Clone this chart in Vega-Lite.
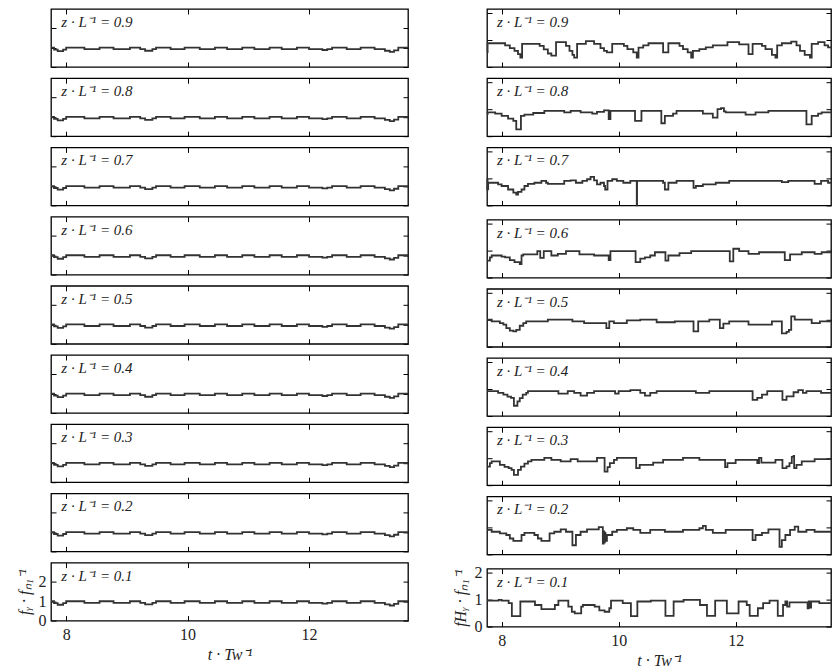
{
"$schema": "https://vega.github.io/schema/vega-lite/v6.json",
"background": "white",
"padding": {"left": 15, "top": 7, "right": 0, "bottom": 0},
"datasets": {
"L": [
{"z":0.9,"t":7.75,"y":1.0},{"z":0.9,"t":7.80,"y":0.9},{"z":0.9,"t":7.86,"y":0.82},{"z":0.9,"t":7.95,"y":0.9},{"z":0.9,"t":8.00,"y":1.0},{"z":0.9,"t":8.30,"y":0.92},{"z":0.9,"t":8.55,"y":1.0},{"z":0.9,"t":8.78,"y":0.92},{"z":0.9,"t":9.05,"y":1.0},{"z":0.9,"t":9.22,"y":0.92},{"z":0.9,"t":9.30,"y":0.84},{"z":0.9,"t":9.42,"y":0.92},{"z":0.9,"t":9.48,"y":1.0},{"z":0.9,"t":9.72,"y":0.92},{"z":0.9,"t":9.95,"y":1.0},{"z":0.9,"t":10.20,"y":0.92},{"z":0.9,"t":10.45,"y":1.0},{"z":0.9,"t":10.65,"y":0.92},{"z":0.9,"t":10.90,"y":1.0},{"z":0.9,"t":11.10,"y":0.92},{"z":0.9,"t":11.35,"y":1.0},{"z":0.9,"t":11.55,"y":0.92},{"z":0.9,"t":11.80,"y":1.0},{"z":0.9,"t":12.00,"y":0.92},{"z":0.9,"t":12.22,"y":0.88},{"z":0.9,"t":12.30,"y":0.92},{"z":0.9,"t":12.38,"y":1.0},{"z":0.9,"t":12.62,"y":0.92},{"z":0.9,"t":12.85,"y":1.0},{"z":0.9,"t":13.08,"y":0.92},{"z":0.9,"t":13.25,"y":0.84},{"z":0.9,"t":13.33,"y":0.78},{"z":0.9,"t":13.40,"y":0.86},{"z":0.9,"t":13.47,"y":1.0},{"z":0.9,"t":13.63,"y":1.0},
{"z":0.8,"t":7.75,"y":1.0},{"z":0.8,"t":7.80,"y":0.9},{"z":0.8,"t":7.86,"y":0.82},{"z":0.8,"t":7.95,"y":0.9},{"z":0.8,"t":8.00,"y":1.0},{"z":0.8,"t":8.30,"y":0.92},{"z":0.8,"t":8.55,"y":1.0},{"z":0.8,"t":8.78,"y":0.92},{"z":0.8,"t":9.05,"y":1.0},{"z":0.8,"t":9.22,"y":0.92},{"z":0.8,"t":9.30,"y":0.84},{"z":0.8,"t":9.42,"y":0.92},{"z":0.8,"t":9.48,"y":1.0},{"z":0.8,"t":9.72,"y":0.92},{"z":0.8,"t":9.95,"y":1.0},{"z":0.8,"t":10.20,"y":0.92},{"z":0.8,"t":10.45,"y":1.0},{"z":0.8,"t":10.65,"y":0.92},{"z":0.8,"t":10.90,"y":1.0},{"z":0.8,"t":11.10,"y":0.92},{"z":0.8,"t":11.35,"y":1.0},{"z":0.8,"t":11.55,"y":0.92},{"z":0.8,"t":11.80,"y":1.0},{"z":0.8,"t":12.00,"y":0.92},{"z":0.8,"t":12.22,"y":0.88},{"z":0.8,"t":12.30,"y":0.92},{"z":0.8,"t":12.38,"y":1.0},{"z":0.8,"t":12.62,"y":0.92},{"z":0.8,"t":12.85,"y":1.0},{"z":0.8,"t":13.08,"y":0.92},{"z":0.8,"t":13.25,"y":0.84},{"z":0.8,"t":13.33,"y":0.78},{"z":0.8,"t":13.40,"y":0.86},{"z":0.8,"t":13.47,"y":1.0},{"z":0.8,"t":13.63,"y":1.0},
{"z":0.7,"t":7.75,"y":1.0},{"z":0.7,"t":7.80,"y":0.9},{"z":0.7,"t":7.86,"y":0.82},{"z":0.7,"t":7.95,"y":0.9},{"z":0.7,"t":8.00,"y":1.0},{"z":0.7,"t":8.30,"y":0.92},{"z":0.7,"t":8.55,"y":1.0},{"z":0.7,"t":8.78,"y":0.92},{"z":0.7,"t":9.05,"y":1.0},{"z":0.7,"t":9.22,"y":0.92},{"z":0.7,"t":9.30,"y":0.84},{"z":0.7,"t":9.42,"y":0.92},{"z":0.7,"t":9.48,"y":1.0},{"z":0.7,"t":9.72,"y":0.92},{"z":0.7,"t":9.95,"y":1.0},{"z":0.7,"t":10.20,"y":0.92},{"z":0.7,"t":10.45,"y":1.0},{"z":0.7,"t":10.65,"y":0.92},{"z":0.7,"t":10.90,"y":1.0},{"z":0.7,"t":11.10,"y":0.92},{"z":0.7,"t":11.35,"y":1.0},{"z":0.7,"t":11.55,"y":0.92},{"z":0.7,"t":11.80,"y":1.0},{"z":0.7,"t":12.00,"y":0.92},{"z":0.7,"t":12.22,"y":0.88},{"z":0.7,"t":12.30,"y":0.92},{"z":0.7,"t":12.38,"y":1.0},{"z":0.7,"t":12.62,"y":0.92},{"z":0.7,"t":12.85,"y":1.0},{"z":0.7,"t":13.08,"y":0.92},{"z":0.7,"t":13.25,"y":0.84},{"z":0.7,"t":13.33,"y":0.78},{"z":0.7,"t":13.40,"y":0.86},{"z":0.7,"t":13.47,"y":1.0},{"z":0.7,"t":13.63,"y":1.0},
{"z":0.6,"t":7.75,"y":1.0},{"z":0.6,"t":7.80,"y":0.9},{"z":0.6,"t":7.86,"y":0.82},{"z":0.6,"t":7.95,"y":0.9},{"z":0.6,"t":8.00,"y":1.0},{"z":0.6,"t":8.30,"y":0.92},{"z":0.6,"t":8.55,"y":1.0},{"z":0.6,"t":8.78,"y":0.92},{"z":0.6,"t":9.05,"y":1.0},{"z":0.6,"t":9.22,"y":0.92},{"z":0.6,"t":9.30,"y":0.84},{"z":0.6,"t":9.42,"y":0.92},{"z":0.6,"t":9.48,"y":1.0},{"z":0.6,"t":9.72,"y":0.92},{"z":0.6,"t":9.95,"y":1.0},{"z":0.6,"t":10.20,"y":0.92},{"z":0.6,"t":10.45,"y":1.0},{"z":0.6,"t":10.65,"y":0.92},{"z":0.6,"t":10.90,"y":1.0},{"z":0.6,"t":11.10,"y":0.92},{"z":0.6,"t":11.35,"y":1.0},{"z":0.6,"t":11.55,"y":0.92},{"z":0.6,"t":11.80,"y":1.0},{"z":0.6,"t":12.00,"y":0.92},{"z":0.6,"t":12.22,"y":0.88},{"z":0.6,"t":12.30,"y":0.92},{"z":0.6,"t":12.38,"y":1.0},{"z":0.6,"t":12.62,"y":0.92},{"z":0.6,"t":12.85,"y":1.0},{"z":0.6,"t":13.08,"y":0.92},{"z":0.6,"t":13.25,"y":0.84},{"z":0.6,"t":13.33,"y":0.78},{"z":0.6,"t":13.40,"y":0.86},{"z":0.6,"t":13.47,"y":1.0},{"z":0.6,"t":13.63,"y":1.0},
{"z":0.5,"t":7.75,"y":1.0},{"z":0.5,"t":7.80,"y":0.9},{"z":0.5,"t":7.86,"y":0.82},{"z":0.5,"t":7.95,"y":0.9},{"z":0.5,"t":8.00,"y":1.0},{"z":0.5,"t":8.30,"y":0.92},{"z":0.5,"t":8.55,"y":1.0},{"z":0.5,"t":8.78,"y":0.92},{"z":0.5,"t":9.05,"y":1.0},{"z":0.5,"t":9.22,"y":0.92},{"z":0.5,"t":9.30,"y":0.84},{"z":0.5,"t":9.42,"y":0.92},{"z":0.5,"t":9.48,"y":1.0},{"z":0.5,"t":9.72,"y":0.92},{"z":0.5,"t":9.95,"y":1.0},{"z":0.5,"t":10.20,"y":0.92},{"z":0.5,"t":10.45,"y":1.0},{"z":0.5,"t":10.65,"y":0.92},{"z":0.5,"t":10.90,"y":1.0},{"z":0.5,"t":11.10,"y":0.92},{"z":0.5,"t":11.35,"y":1.0},{"z":0.5,"t":11.55,"y":0.92},{"z":0.5,"t":11.80,"y":1.0},{"z":0.5,"t":12.00,"y":0.92},{"z":0.5,"t":12.22,"y":0.88},{"z":0.5,"t":12.30,"y":0.92},{"z":0.5,"t":12.38,"y":1.0},{"z":0.5,"t":12.62,"y":0.92},{"z":0.5,"t":12.85,"y":1.0},{"z":0.5,"t":13.08,"y":0.92},{"z":0.5,"t":13.25,"y":0.84},{"z":0.5,"t":13.33,"y":0.78},{"z":0.5,"t":13.40,"y":0.86},{"z":0.5,"t":13.47,"y":1.0},{"z":0.5,"t":13.63,"y":1.0},
{"z":0.4,"t":7.75,"y":1.0},{"z":0.4,"t":7.80,"y":0.9},{"z":0.4,"t":7.86,"y":0.82},{"z":0.4,"t":7.95,"y":0.9},{"z":0.4,"t":8.00,"y":1.0},{"z":0.4,"t":8.30,"y":0.92},{"z":0.4,"t":8.55,"y":1.0},{"z":0.4,"t":8.78,"y":0.92},{"z":0.4,"t":9.05,"y":1.0},{"z":0.4,"t":9.22,"y":0.92},{"z":0.4,"t":9.30,"y":0.84},{"z":0.4,"t":9.42,"y":0.92},{"z":0.4,"t":9.48,"y":1.0},{"z":0.4,"t":9.72,"y":0.92},{"z":0.4,"t":9.95,"y":1.0},{"z":0.4,"t":10.20,"y":0.92},{"z":0.4,"t":10.45,"y":1.0},{"z":0.4,"t":10.65,"y":0.92},{"z":0.4,"t":10.90,"y":1.0},{"z":0.4,"t":11.10,"y":0.92},{"z":0.4,"t":11.35,"y":1.0},{"z":0.4,"t":11.55,"y":0.92},{"z":0.4,"t":11.80,"y":1.0},{"z":0.4,"t":12.00,"y":0.92},{"z":0.4,"t":12.22,"y":0.88},{"z":0.4,"t":12.30,"y":0.92},{"z":0.4,"t":12.38,"y":1.0},{"z":0.4,"t":12.62,"y":0.92},{"z":0.4,"t":12.85,"y":1.0},{"z":0.4,"t":13.08,"y":0.92},{"z":0.4,"t":13.25,"y":0.84},{"z":0.4,"t":13.33,"y":0.78},{"z":0.4,"t":13.40,"y":0.86},{"z":0.4,"t":13.47,"y":1.0},{"z":0.4,"t":13.63,"y":1.0},
{"z":0.3,"t":7.75,"y":1.0},{"z":0.3,"t":7.80,"y":0.9},{"z":0.3,"t":7.86,"y":0.82},{"z":0.3,"t":7.95,"y":0.9},{"z":0.3,"t":8.00,"y":1.0},{"z":0.3,"t":8.30,"y":0.92},{"z":0.3,"t":8.55,"y":1.0},{"z":0.3,"t":8.78,"y":0.92},{"z":0.3,"t":9.05,"y":1.0},{"z":0.3,"t":9.22,"y":0.92},{"z":0.3,"t":9.30,"y":0.84},{"z":0.3,"t":9.42,"y":0.92},{"z":0.3,"t":9.48,"y":1.0},{"z":0.3,"t":9.72,"y":0.92},{"z":0.3,"t":9.95,"y":1.0},{"z":0.3,"t":10.20,"y":0.92},{"z":0.3,"t":10.45,"y":1.0},{"z":0.3,"t":10.65,"y":0.92},{"z":0.3,"t":10.90,"y":1.0},{"z":0.3,"t":11.10,"y":0.92},{"z":0.3,"t":11.35,"y":1.0},{"z":0.3,"t":11.55,"y":0.92},{"z":0.3,"t":11.80,"y":1.0},{"z":0.3,"t":12.00,"y":0.92},{"z":0.3,"t":12.22,"y":0.88},{"z":0.3,"t":12.30,"y":0.92},{"z":0.3,"t":12.38,"y":1.0},{"z":0.3,"t":12.62,"y":0.92},{"z":0.3,"t":12.85,"y":1.0},{"z":0.3,"t":13.08,"y":0.92},{"z":0.3,"t":13.25,"y":0.84},{"z":0.3,"t":13.33,"y":0.78},{"z":0.3,"t":13.40,"y":0.86},{"z":0.3,"t":13.47,"y":1.0},{"z":0.3,"t":13.63,"y":1.0},
{"z":0.2,"t":7.75,"y":1.0},{"z":0.2,"t":7.80,"y":0.9},{"z":0.2,"t":7.86,"y":0.82},{"z":0.2,"t":7.95,"y":0.9},{"z":0.2,"t":8.00,"y":1.0},{"z":0.2,"t":8.30,"y":0.92},{"z":0.2,"t":8.55,"y":1.0},{"z":0.2,"t":8.78,"y":0.92},{"z":0.2,"t":9.05,"y":1.0},{"z":0.2,"t":9.22,"y":0.92},{"z":0.2,"t":9.30,"y":0.84},{"z":0.2,"t":9.42,"y":0.92},{"z":0.2,"t":9.48,"y":1.0},{"z":0.2,"t":9.72,"y":0.92},{"z":0.2,"t":9.95,"y":1.0},{"z":0.2,"t":10.20,"y":0.92},{"z":0.2,"t":10.45,"y":1.0},{"z":0.2,"t":10.65,"y":0.92},{"z":0.2,"t":10.90,"y":1.0},{"z":0.2,"t":11.10,"y":0.92},{"z":0.2,"t":11.35,"y":1.0},{"z":0.2,"t":11.55,"y":0.92},{"z":0.2,"t":11.80,"y":1.0},{"z":0.2,"t":12.00,"y":0.92},{"z":0.2,"t":12.22,"y":0.88},{"z":0.2,"t":12.30,"y":0.92},{"z":0.2,"t":12.38,"y":1.0},{"z":0.2,"t":12.62,"y":0.92},{"z":0.2,"t":12.85,"y":1.0},{"z":0.2,"t":13.08,"y":0.92},{"z":0.2,"t":13.25,"y":0.84},{"z":0.2,"t":13.33,"y":0.78},{"z":0.2,"t":13.40,"y":0.86},{"z":0.2,"t":13.47,"y":1.0},{"z":0.2,"t":13.63,"y":1.0},
{"z":0.1,"t":7.75,"y":1.0},{"z":0.1,"t":7.80,"y":0.9},{"z":0.1,"t":7.86,"y":0.82},{"z":0.1,"t":7.95,"y":0.9},{"z":0.1,"t":8.00,"y":1.0},{"z":0.1,"t":8.30,"y":0.92},{"z":0.1,"t":8.55,"y":1.0},{"z":0.1,"t":8.78,"y":0.92},{"z":0.1,"t":9.05,"y":1.0},{"z":0.1,"t":9.22,"y":0.92},{"z":0.1,"t":9.30,"y":0.84},{"z":0.1,"t":9.42,"y":0.92},{"z":0.1,"t":9.48,"y":1.0},{"z":0.1,"t":9.72,"y":0.92},{"z":0.1,"t":9.95,"y":1.0},{"z":0.1,"t":10.20,"y":0.92},{"z":0.1,"t":10.45,"y":1.0},{"z":0.1,"t":10.65,"y":0.92},{"z":0.1,"t":10.90,"y":1.0},{"z":0.1,"t":11.10,"y":0.92},{"z":0.1,"t":11.35,"y":1.0},{"z":0.1,"t":11.55,"y":0.92},{"z":0.1,"t":11.80,"y":1.0},{"z":0.1,"t":12.00,"y":0.92},{"z":0.1,"t":12.22,"y":0.88},{"z":0.1,"t":12.30,"y":0.92},{"z":0.1,"t":12.38,"y":1.0},{"z":0.1,"t":12.62,"y":0.92},{"z":0.1,"t":12.85,"y":1.0},{"z":0.1,"t":13.08,"y":0.92},{"z":0.1,"t":13.25,"y":0.84},{"z":0.1,"t":13.33,"y":0.78},{"z":0.1,"t":13.40,"y":0.86},{"z":0.1,"t":13.47,"y":1.0},{"z":0.1,"t":13.63,"y":1.0}
],
"R": [
{"z":0.9,"t":7.75,"y":0.55},{"z":0.9,"t":7.76,"y":0.88},{"z":0.9,"t":8.06,"y":0.80},{"z":0.9,"t":8.14,"y":0.70},{"z":0.9,"t":8.22,"y":0.60},{"z":0.9,"t":8.28,"y":0.48},{"z":0.9,"t":8.32,"y":0.35},{"z":0.9,"t":8.35,"y":0.86},{"z":0.9,"t":8.65,"y":0.78},{"z":0.9,"t":8.72,"y":0.65},{"z":0.9,"t":8.79,"y":0.50},{"z":0.9,"t":8.85,"y":0.42},{"z":0.9,"t":8.93,"y":0.92},{"z":0.9,"t":9.10,"y":0.78},{"z":0.9,"t":9.16,"y":0.60},{"z":0.9,"t":9.21,"y":0.45},{"z":0.9,"t":9.24,"y":0.35},{"z":0.9,"t":9.29,"y":0.86},{"z":0.9,"t":9.44,"y":0.96},{"z":0.9,"t":9.58,"y":0.86},{"z":0.9,"t":9.69,"y":0.70},{"z":0.9,"t":9.75,"y":0.60},{"z":0.9,"t":9.80,"y":0.54},{"z":0.9,"t":9.89,"y":0.86},{"z":0.9,"t":10.09,"y":0.78},{"z":0.9,"t":10.15,"y":0.66},{"z":0.9,"t":10.25,"y":0.54},{"z":0.9,"t":10.31,"y":0.35},{"z":0.9,"t":10.34,"y":0.72},{"z":0.9,"t":10.42,"y":0.80},{"z":0.9,"t":10.51,"y":0.88},{"z":0.9,"t":10.76,"y":0.54},{"z":0.9,"t":10.85,"y":0.88},{"z":0.9,"t":11.04,"y":0.78},{"z":0.9,"t":11.10,"y":0.66},{"z":0.9,"t":11.18,"y":0.54},{"z":0.9,"t":11.24,"y":0.35},{"z":0.9,"t":11.27,"y":0.60},{"z":0.9,"t":11.38,"y":0.66},{"z":0.9,"t":11.49,"y":0.73},{"z":0.9,"t":11.61,"y":0.80},{"z":0.9,"t":11.86,"y":0.92},{"z":0.9,"t":12.06,"y":0.84},{"z":0.9,"t":12.22,"y":0.48},{"z":0.9,"t":12.29,"y":0.86},{"z":0.9,"t":12.45,"y":0.78},{"z":0.9,"t":12.51,"y":0.66},{"z":0.9,"t":12.62,"y":0.45},{"z":0.9,"t":12.68,"y":0.35},{"z":0.9,"t":12.71,"y":0.80},{"z":0.9,"t":12.79,"y":0.88},{"z":0.9,"t":12.95,"y":0.94},{"z":0.9,"t":13.04,"y":0.80},{"z":0.9,"t":13.10,"y":0.60},{"z":0.9,"t":13.18,"y":0.45},{"z":0.9,"t":13.27,"y":0.35},{"z":0.9,"t":13.30,"y":0.86},{"z":0.9,"t":13.41,"y":0.92},{"z":0.9,"t":13.52,"y":0.80},{"z":0.9,"t":13.58,"y":0.73},{"z":0.9,"t":13.63,"y":0.73},
{"z":0.8,"t":7.75,"y":0.82},{"z":0.8,"t":7.76,"y":0.88},{"z":0.8,"t":7.89,"y":0.84},{"z":0.8,"t":8.00,"y":0.75},{"z":0.8,"t":8.11,"y":0.65},{"z":0.8,"t":8.20,"y":0.57},{"z":0.8,"t":8.25,"y":0.25},{"z":0.8,"t":8.33,"y":0.75},{"z":0.8,"t":8.39,"y":0.80},{"z":0.8,"t":8.54,"y":0.86},{"z":0.8,"t":8.73,"y":0.94},{"z":0.8,"t":9.07,"y":0.88},{"z":0.8,"t":9.18,"y":0.94},{"z":0.8,"t":9.35,"y":0.88},{"z":0.8,"t":9.55,"y":0.84},{"z":0.8,"t":9.63,"y":0.90},{"z":0.8,"t":9.75,"y":0.96},{"z":0.8,"t":9.83,"y":0.63},{"z":0.8,"t":9.86,"y":0.94},{"z":0.8,"t":10.28,"y":0.57},{"z":0.8,"t":10.39,"y":0.94},{"z":0.8,"t":10.73,"y":0.48},{"z":0.8,"t":10.79,"y":0.75},{"z":0.8,"t":10.93,"y":0.84},{"z":0.8,"t":10.99,"y":0.94},{"z":0.8,"t":11.44,"y":0.84},{"z":0.8,"t":11.61,"y":0.69},{"z":0.8,"t":11.69,"y":1.0},{"z":0.8,"t":11.75,"y":1.04},{"z":0.8,"t":11.80,"y":0.92},{"z":0.8,"t":11.83,"y":0.88},{"z":0.8,"t":12.17,"y":0.80},{"z":0.8,"t":12.34,"y":0.88},{"z":0.8,"t":12.56,"y":0.94},{"z":0.8,"t":13.21,"y":0.44},{"z":0.8,"t":13.30,"y":0.75},{"z":0.8,"t":13.41,"y":0.84},{"z":0.8,"t":13.47,"y":0.88},{"z":0.8,"t":13.63,"y":0.88},
{"z":0.7,"t":7.75,"y":0.55},{"z":0.7,"t":7.755,"y":0.95},{"z":0.7,"t":7.76,"y":0.60},{"z":0.7,"t":7.77,"y":0.84},{"z":0.7,"t":7.94,"y":0.78},{"z":0.7,"t":8.00,"y":0.72},{"z":0.7,"t":8.11,"y":0.59},{"z":0.7,"t":8.20,"y":0.47},{"z":0.7,"t":8.25,"y":0.40},{"z":0.7,"t":8.28,"y":0.50},{"z":0.7,"t":8.34,"y":0.59},{"z":0.7,"t":8.39,"y":0.72},{"z":0.7,"t":8.45,"y":0.80},{"z":0.7,"t":8.56,"y":0.84},{"z":0.7,"t":8.68,"y":0.91},{"z":0.7,"t":8.76,"y":0.84},{"z":0.7,"t":8.79,"y":0.80},{"z":0.7,"t":9.07,"y":0.91},{"z":0.7,"t":9.18,"y":0.93},{"z":0.7,"t":9.27,"y":0.84},{"z":0.7,"t":9.38,"y":0.91},{"z":0.7,"t":9.46,"y":0.97},{"z":0.7,"t":9.52,"y":1.06},{"z":0.7,"t":9.58,"y":0.93},{"z":0.7,"t":9.63,"y":0.78},{"z":0.7,"t":9.69,"y":0.84},{"z":0.7,"t":9.75,"y":0.72},{"z":0.7,"t":9.77,"y":0.59},{"z":0.7,"t":9.81,"y":0.91},{"z":0.7,"t":9.89,"y":0.97},{"z":0.7,"t":9.97,"y":0.91},{"z":0.7,"t":10.08,"y":0.84},{"z":0.7,"t":10.20,"y":0.91},{"z":0.7,"t":10.31,"y":0.0},{"z":0.7,"t":10.315,"y":0.91},{"z":0.7,"t":10.76,"y":0.84},{"z":0.7,"t":10.79,"y":0.59},{"z":0.7,"t":10.85,"y":0.84},{"z":0.7,"t":10.99,"y":0.91},{"z":0.7,"t":11.28,"y":0.65},{"z":0.7,"t":11.32,"y":0.72},{"z":0.7,"t":11.44,"y":0.78},{"z":0.7,"t":11.66,"y":0.84},{"z":0.7,"t":11.89,"y":0.91},{"z":0.7,"t":12.79,"y":0.86},{"z":0.7,"t":12.90,"y":0.91},{"z":0.7,"t":13.35,"y":0.80},{"z":0.7,"t":13.46,"y":0.91},{"z":0.7,"t":13.58,"y":0.84},{"z":0.7,"t":13.63,"y":0.84},
{"z":0.6,"t":7.75,"y":0.63},{"z":0.6,"t":7.80,"y":0.75},{"z":0.6,"t":7.83,"y":0.82},{"z":0.6,"t":8.00,"y":0.78},{"z":0.6,"t":8.06,"y":0.75},{"z":0.6,"t":8.14,"y":0.65},{"z":0.6,"t":8.22,"y":0.57},{"z":0.6,"t":8.31,"y":0.50},{"z":0.6,"t":8.34,"y":0.82},{"z":0.6,"t":8.37,"y":0.86},{"z":0.6,"t":8.61,"y":0.98},{"z":0.6,"t":8.66,"y":0.73},{"z":0.6,"t":8.72,"y":0.98},{"z":0.6,"t":8.85,"y":0.82},{"z":0.6,"t":8.96,"y":0.88},{"z":0.6,"t":9.10,"y":0.98},{"z":0.6,"t":9.33,"y":0.86},{"z":0.6,"t":9.58,"y":0.82},{"z":0.6,"t":9.83,"y":0.65},{"z":0.6,"t":9.86,"y":0.98},{"z":0.6,"t":10.29,"y":0.57},{"z":0.6,"t":10.37,"y":0.70},{"z":0.6,"t":10.45,"y":0.75},{"z":0.6,"t":10.54,"y":0.82},{"z":0.6,"t":10.62,"y":0.94},{"z":0.6,"t":10.80,"y":0.63},{"z":0.6,"t":10.85,"y":0.82},{"z":0.6,"t":11.04,"y":0.91},{"z":0.6,"t":11.24,"y":0.98},{"z":0.6,"t":11.90,"y":0.60},{"z":0.6,"t":11.96,"y":1.07},{"z":0.6,"t":12.06,"y":0.98},{"z":0.6,"t":12.22,"y":0.88},{"z":0.6,"t":12.40,"y":0.94},{"z":0.6,"t":12.84,"y":0.65},{"z":0.6,"t":12.93,"y":0.86},{"z":0.6,"t":13.13,"y":0.94},{"z":0.6,"t":13.35,"y":0.88},{"z":0.6,"t":13.47,"y":0.94},{"z":0.6,"t":13.63,"y":0.94},
{"z":0.5,"t":7.75,"y":1.01},{"z":0.5,"t":7.83,"y":0.94},{"z":0.5,"t":7.97,"y":0.88},{"z":0.5,"t":8.03,"y":0.82},{"z":0.5,"t":8.08,"y":0.69},{"z":0.5,"t":8.14,"y":0.60},{"z":0.5,"t":8.20,"y":0.57},{"z":0.5,"t":8.25,"y":0.63},{"z":0.5,"t":8.31,"y":0.78},{"z":0.5,"t":8.37,"y":0.88},{"z":0.5,"t":8.42,"y":0.94},{"z":0.5,"t":8.79,"y":1.01},{"z":0.5,"t":9.21,"y":0.94},{"z":0.5,"t":9.41,"y":0.88},{"z":0.5,"t":9.79,"y":0.69},{"z":0.5,"t":9.84,"y":0.94},{"z":0.5,"t":9.92,"y":0.88},{"z":0.5,"t":10.14,"y":0.98},{"z":0.5,"t":10.37,"y":1.01},{"z":0.5,"t":10.65,"y":0.91},{"z":0.5,"t":10.96,"y":0.94},{"z":0.5,"t":11.28,"y":0.57},{"z":0.5,"t":11.36,"y":0.94},{"z":0.5,"t":11.55,"y":1.01},{"z":0.5,"t":11.73,"y":0.69},{"z":0.5,"t":11.79,"y":0.86},{"z":0.5,"t":11.89,"y":0.94},{"z":0.5,"t":12.22,"y":0.82},{"z":0.5,"t":12.62,"y":0.94},{"z":0.5,"t":12.79,"y":0.50},{"z":0.5,"t":12.87,"y":0.55},{"z":0.5,"t":12.91,"y":0.63},{"z":0.5,"t":12.95,"y":1.13},{"z":0.5,"t":13.01,"y":1.01},{"z":0.5,"t":13.30,"y":0.88},{"z":0.5,"t":13.44,"y":0.94},{"z":0.5,"t":13.63,"y":0.94},
{"z":0.4,"t":7.75,"y":0.92},{"z":0.4,"t":7.94,"y":0.855},{"z":0.4,"t":8.03,"y":0.79},{"z":0.4,"t":8.10,"y":0.72},{"z":0.4,"t":8.16,"y":0.67},{"z":0.4,"t":8.21,"y":0.38},{"z":0.4,"t":8.27,"y":0.54},{"z":0.4,"t":8.31,"y":0.66},{"z":0.4,"t":8.36,"y":0.79},{"z":0.4,"t":8.42,"y":0.855},{"z":0.4,"t":8.45,"y":0.92},{"z":0.4,"t":8.97,"y":0.83},{"z":0.4,"t":9.13,"y":0.92},{"z":0.4,"t":9.24,"y":0.855},{"z":0.4,"t":9.35,"y":0.755},{"z":0.4,"t":9.46,"y":0.855},{"z":0.4,"t":9.58,"y":0.92},{"z":0.4,"t":9.94,"y":0.83},{"z":0.4,"t":10.0,"y":0.92},{"z":0.4,"t":10.20,"y":0.96},{"z":0.4,"t":10.37,"y":0.855},{"z":0.4,"t":10.45,"y":0.755},{"z":0.4,"t":10.54,"y":0.855},{"z":0.4,"t":10.65,"y":0.92},{"z":0.4,"t":11.32,"y":0.855},{"z":0.4,"t":11.55,"y":0.92},{"z":0.4,"t":12.29,"y":0.60},{"z":0.4,"t":12.37,"y":0.67},{"z":0.4,"t":12.45,"y":0.79},{"z":0.4,"t":12.54,"y":0.92},{"z":0.4,"t":12.80,"y":0.60},{"z":0.4,"t":12.87,"y":0.73},{"z":0.4,"t":12.99,"y":0.88},{"z":0.4,"t":13.07,"y":0.96},{"z":0.4,"t":13.15,"y":0.855},{"z":0.4,"t":13.21,"y":0.92},{"z":0.4,"t":13.46,"y":0.855},{"z":0.4,"t":13.63,"y":0.855},
{"z":0.3,"t":7.75,"y":0.69},{"z":0.3,"t":7.80,"y":0.82},{"z":0.3,"t":7.83,"y":0.88},{"z":0.3,"t":7.97,"y":0.755},{"z":0.3,"t":8.05,"y":0.68},{"z":0.3,"t":8.12,"y":0.63},{"z":0.3,"t":8.17,"y":0.57},{"z":0.3,"t":8.21,"y":0.38},{"z":0.3,"t":8.28,"y":0.57},{"z":0.3,"t":8.33,"y":0.69},{"z":0.3,"t":8.39,"y":0.80},{"z":0.3,"t":8.45,"y":0.88},{"z":0.3,"t":8.51,"y":0.94},{"z":0.3,"t":8.73,"y":1.01},{"z":0.3,"t":8.85,"y":0.94},{"z":0.3,"t":9.01,"y":0.88},{"z":0.3,"t":9.18,"y":0.97},{"z":0.3,"t":9.30,"y":0.88},{"z":0.3,"t":9.63,"y":1.01},{"z":0.3,"t":9.76,"y":0.50},{"z":0.3,"t":9.81,"y":0.67},{"z":0.3,"t":9.85,"y":0.82},{"z":0.3,"t":9.92,"y":0.94},{"z":0.3,"t":9.97,"y":1.01},{"z":0.3,"t":10.30,"y":0.63},{"z":0.3,"t":10.36,"y":0.755},{"z":0.3,"t":10.59,"y":0.84},{"z":0.3,"t":10.76,"y":0.94},{"z":0.3,"t":11.10,"y":1.01},{"z":0.3,"t":11.38,"y":0.94},{"z":0.3,"t":11.82,"y":0.67},{"z":0.3,"t":11.86,"y":0.82},{"z":0.3,"t":12.0,"y":0.94},{"z":0.3,"t":12.37,"y":0.82},{"z":0.3,"t":12.40,"y":1.01},{"z":0.3,"t":12.44,"y":0.84},{"z":0.3,"t":12.68,"y":0.94},{"z":0.3,"t":12.80,"y":0.63},{"z":0.3,"t":12.87,"y":0.70},{"z":0.3,"t":12.92,"y":0.82},{"z":0.3,"t":12.96,"y":1.05},{"z":0.3,"t":12.99,"y":1.09},{"z":0.3,"t":13.0,"y":0.63},{"z":0.3,"t":13.04,"y":0.755},{"z":0.3,"t":13.13,"y":0.88},{"z":0.3,"t":13.35,"y":0.97},{"z":0.3,"t":13.63,"y":0.97},
{"z":0.2,"t":7.75,"y":0.91},{"z":0.2,"t":7.83,"y":0.84},{"z":0.2,"t":7.97,"y":0.78},{"z":0.2,"t":8.08,"y":0.72},{"z":0.2,"t":8.14,"y":0.59},{"z":0.2,"t":8.20,"y":0.50},{"z":0.2,"t":8.34,"y":0.72},{"z":0.2,"t":8.39,"y":0.80},{"z":0.2,"t":8.56,"y":0.72},{"z":0.2,"t":8.62,"y":0.59},{"z":0.2,"t":8.68,"y":0.50},{"z":0.2,"t":8.82,"y":0.78},{"z":0.2,"t":8.90,"y":0.84},{"z":0.2,"t":9.01,"y":0.93},{"z":0.2,"t":9.10,"y":0.84},{"z":0.2,"t":9.21,"y":0.34},{"z":0.2,"t":9.27,"y":0.72},{"z":0.2,"t":9.35,"y":0.84},{"z":0.2,"t":9.46,"y":0.93},{"z":0.2,"t":9.66,"y":1.01},{"z":0.2,"t":9.73,"y":0.40},{"z":0.2,"t":9.745,"y":0.85},{"z":0.2,"t":9.755,"y":0.45},{"z":0.2,"t":9.765,"y":0.80},{"z":0.2,"t":9.775,"y":0.50},{"z":0.2,"t":9.80,"y":0.72},{"z":0.2,"t":9.89,"y":0.84},{"z":0.2,"t":9.97,"y":0.91},{"z":0.2,"t":10.14,"y":0.97},{"z":0.2,"t":10.25,"y":0.91},{"z":0.2,"t":10.37,"y":0.80},{"z":0.2,"t":10.54,"y":0.91},{"z":0.2,"t":10.79,"y":0.84},{"z":0.2,"t":11.10,"y":0.91},{"z":0.2,"t":11.38,"y":0.97},{"z":0.2,"t":11.44,"y":1.06},{"z":0.2,"t":11.49,"y":0.91},{"z":0.2,"t":11.61,"y":0.80},{"z":0.2,"t":11.83,"y":0.91},{"z":0.2,"t":12.29,"y":0.53},{"z":0.2,"t":12.34,"y":0.72},{"z":0.2,"t":12.45,"y":0.80},{"z":0.2,"t":12.56,"y":0.93},{"z":0.2,"t":12.75,"y":0.28},{"z":0.2,"t":12.79,"y":0.53},{"z":0.2,"t":12.85,"y":0.72},{"z":0.2,"t":12.93,"y":0.91},{"z":0.2,"t":13.01,"y":1.03},{"z":0.2,"t":13.07,"y":0.84},{"z":0.2,"t":13.21,"y":0.91},{"z":0.2,"t":13.35,"y":0.84},{"z":0.2,"t":13.63,"y":0.84},
{"z":0.1,"t":7.75,"y":0.96},{"z":0.1,"t":7.95,"y":0.99},{"z":0.1,"t":8.0,"y":0.96},{"z":0.1,"t":8.12,"y":0.87},{"z":0.1,"t":8.175,"y":0.39},{"z":0.1,"t":8.32,"y":0.93},{"z":0.1,"t":8.57,"y":0.80},{"z":0.1,"t":8.68,"y":0.65},{"z":0.1,"t":8.91,"y":0.80},{"z":0.1,"t":8.97,"y":0.96},{"z":0.1,"t":9.14,"y":0.74},{"z":0.1,"t":9.20,"y":0.55},{"z":0.1,"t":9.25,"y":0.49},{"z":0.1,"t":9.36,"y":0.74},{"z":0.1,"t":9.39,"y":0.80},{"z":0.1,"t":9.59,"y":0.74},{"z":0.1,"t":9.67,"y":0.60},{"z":0.1,"t":9.76,"y":0.55},{"z":0.1,"t":9.84,"y":0.68},{"z":0.1,"t":9.87,"y":0.96},{"z":0.1,"t":10.07,"y":0.87},{"z":0.1,"t":10.21,"y":0.39},{"z":0.1,"t":10.32,"y":0.93},{"z":0.1,"t":10.55,"y":0.96},{"z":0.1,"t":10.80,"y":0.40},{"z":0.1,"t":10.94,"y":0.93},{"z":0.1,"t":11.11,"y":0.99},{"z":0.1,"t":11.39,"y":0.80},{"z":0.1,"t":11.51,"y":0.40},{"z":0.1,"t":11.65,"y":0.96},{"z":0.1,"t":11.85,"y":0.49},{"z":0.1,"t":12.05,"y":0.93},{"z":0.1,"t":12.19,"y":0.80},{"z":0.1,"t":12.24,"y":0.40},{"z":0.1,"t":12.38,"y":0.68},{"z":0.1,"t":12.47,"y":0.87},{"z":0.1,"t":12.58,"y":0.96},{"z":0.1,"t":12.72,"y":0.40},{"z":0.1,"t":12.81,"y":0.80},{"z":0.1,"t":12.85,"y":0.93},{"z":0.1,"t":12.88,"y":0.74},{"z":0.1,"t":12.92,"y":0.90},{"z":0.1,"t":13.23,"y":0.68},{"z":0.1,"t":13.25,"y":0.93},{"z":0.1,"t":13.27,"y":0.70},{"z":0.1,"t":13.29,"y":0.93},{"z":0.1,"t":13.43,"y":0.87},{"z":0.1,"t":13.63,"y":0.87}
]
},
"spacing": 38,
"hconcat": [
{"spacing": 7.2, "vconcat": [
{"width":357,"height":58,"resolve":{"axis":{"x":"independent","y":"independent"}},"layer":[
{"data":{"name":"L"},"transform":[{"filter":"datum.z == 0.9"}],"mark":{"type":"line","interpolate":"step-after","color":"#333","strokeWidth":1.8},
"encoding":{"x":{"field":"t","type":"quantitative","scale":{"domain":[7.75,13.63],"nice":false,"zero":false},"axis":{"values":[8,10,12],"labels":false,"title":null}},
"y":{"field":"y","type":"quantitative","scale":{"domain":[0,3],"nice":false},"axis":{"values":[0,1,2],"labels":false,"title":null}}}},
{"data":{"values":[{"label":"z · L⁻¹ = 0.9"}]},"mark":{"type":"text","align":"left","baseline":"alphabetic","font":"Liberation Serif","fontStyle":"italic","fontSize":15,"color":"#222"},
"encoding":{"text":{"field":"label"},"x":{"datum":7.92,"type":"quantitative","axis":{"orient":"top","values":[8,10,12],"labels":false,"title":null}},
"y":{"datum":2.07,"type":"quantitative","axis":{"orient":"right","values":[0,1,2],"labels":false,"title":null}}}}]},
{"width":357,"height":58,"resolve":{"axis":{"x":"independent","y":"independent"}},"layer":[
{"data":{"name":"L"},"transform":[{"filter":"datum.z == 0.8"}],"mark":{"type":"line","interpolate":"step-after","color":"#333","strokeWidth":1.8},
"encoding":{"x":{"field":"t","type":"quantitative","scale":{"domain":[7.75,13.63],"nice":false,"zero":false},"axis":{"values":[8,10,12],"labels":false,"title":null}},
"y":{"field":"y","type":"quantitative","scale":{"domain":[0,3],"nice":false},"axis":{"values":[0,1,2],"labels":false,"title":null}}}},
{"data":{"values":[{"label":"z · L⁻¹ = 0.8"}]},"mark":{"type":"text","align":"left","baseline":"alphabetic","font":"Liberation Serif","fontStyle":"italic","fontSize":15,"color":"#222"},
"encoding":{"text":{"field":"label"},"x":{"datum":7.92,"type":"quantitative","axis":{"orient":"top","values":[8,10,12],"labels":false,"title":null}},
"y":{"datum":2.07,"type":"quantitative","axis":{"orient":"right","values":[0,1,2],"labels":false,"title":null}}}}]},
{"width":357,"height":58,"resolve":{"axis":{"x":"independent","y":"independent"}},"layer":[
{"data":{"name":"L"},"transform":[{"filter":"datum.z == 0.7"}],"mark":{"type":"line","interpolate":"step-after","color":"#333","strokeWidth":1.8},
"encoding":{"x":{"field":"t","type":"quantitative","scale":{"domain":[7.75,13.63],"nice":false,"zero":false},"axis":{"values":[8,10,12],"labels":false,"title":null}},
"y":{"field":"y","type":"quantitative","scale":{"domain":[0,3],"nice":false},"axis":{"values":[0,1,2],"labels":false,"title":null}}}},
{"data":{"values":[{"label":"z · L⁻¹ = 0.7"}]},"mark":{"type":"text","align":"left","baseline":"alphabetic","font":"Liberation Serif","fontStyle":"italic","fontSize":15,"color":"#222"},
"encoding":{"text":{"field":"label"},"x":{"datum":7.92,"type":"quantitative","axis":{"orient":"top","values":[8,10,12],"labels":false,"title":null}},
"y":{"datum":2.07,"type":"quantitative","axis":{"orient":"right","values":[0,1,2],"labels":false,"title":null}}}}]},
{"width":357,"height":58,"resolve":{"axis":{"x":"independent","y":"independent"}},"layer":[
{"data":{"name":"L"},"transform":[{"filter":"datum.z == 0.6"}],"mark":{"type":"line","interpolate":"step-after","color":"#333","strokeWidth":1.8},
"encoding":{"x":{"field":"t","type":"quantitative","scale":{"domain":[7.75,13.63],"nice":false,"zero":false},"axis":{"values":[8,10,12],"labels":false,"title":null}},
"y":{"field":"y","type":"quantitative","scale":{"domain":[0,3],"nice":false},"axis":{"values":[0,1,2],"labels":false,"title":null}}}},
{"data":{"values":[{"label":"z · L⁻¹ = 0.6"}]},"mark":{"type":"text","align":"left","baseline":"alphabetic","font":"Liberation Serif","fontStyle":"italic","fontSize":15,"color":"#222"},
"encoding":{"text":{"field":"label"},"x":{"datum":7.92,"type":"quantitative","axis":{"orient":"top","values":[8,10,12],"labels":false,"title":null}},
"y":{"datum":2.07,"type":"quantitative","axis":{"orient":"right","values":[0,1,2],"labels":false,"title":null}}}}]},
{"width":357,"height":58,"resolve":{"axis":{"x":"independent","y":"independent"}},"layer":[
{"data":{"name":"L"},"transform":[{"filter":"datum.z == 0.5"}],"mark":{"type":"line","interpolate":"step-after","color":"#333","strokeWidth":1.8},
"encoding":{"x":{"field":"t","type":"quantitative","scale":{"domain":[7.75,13.63],"nice":false,"zero":false},"axis":{"values":[8,10,12],"labels":false,"title":null}},
"y":{"field":"y","type":"quantitative","scale":{"domain":[0,3],"nice":false},"axis":{"values":[0,1,2],"labels":false,"title":null}}}},
{"data":{"values":[{"label":"z · L⁻¹ = 0.5"}]},"mark":{"type":"text","align":"left","baseline":"alphabetic","font":"Liberation Serif","fontStyle":"italic","fontSize":15,"color":"#222"},
"encoding":{"text":{"field":"label"},"x":{"datum":7.92,"type":"quantitative","axis":{"orient":"top","values":[8,10,12],"labels":false,"title":null}},
"y":{"datum":2.07,"type":"quantitative","axis":{"orient":"right","values":[0,1,2],"labels":false,"title":null}}}}]},
{"width":357,"height":58,"resolve":{"axis":{"x":"independent","y":"independent"}},"layer":[
{"data":{"name":"L"},"transform":[{"filter":"datum.z == 0.4"}],"mark":{"type":"line","interpolate":"step-after","color":"#333","strokeWidth":1.8},
"encoding":{"x":{"field":"t","type":"quantitative","scale":{"domain":[7.75,13.63],"nice":false,"zero":false},"axis":{"values":[8,10,12],"labels":false,"title":null}},
"y":{"field":"y","type":"quantitative","scale":{"domain":[0,3],"nice":false},"axis":{"values":[0,1,2],"labels":false,"title":null}}}},
{"data":{"values":[{"label":"z · L⁻¹ = 0.4"}]},"mark":{"type":"text","align":"left","baseline":"alphabetic","font":"Liberation Serif","fontStyle":"italic","fontSize":15,"color":"#222"},
"encoding":{"text":{"field":"label"},"x":{"datum":7.92,"type":"quantitative","axis":{"orient":"top","values":[8,10,12],"labels":false,"title":null}},
"y":{"datum":2.07,"type":"quantitative","axis":{"orient":"right","values":[0,1,2],"labels":false,"title":null}}}}]},
{"width":357,"height":58,"resolve":{"axis":{"x":"independent","y":"independent"}},"layer":[
{"data":{"name":"L"},"transform":[{"filter":"datum.z == 0.3"}],"mark":{"type":"line","interpolate":"step-after","color":"#333","strokeWidth":1.8},
"encoding":{"x":{"field":"t","type":"quantitative","scale":{"domain":[7.75,13.63],"nice":false,"zero":false},"axis":{"values":[8,10,12],"labels":false,"title":null}},
"y":{"field":"y","type":"quantitative","scale":{"domain":[0,3],"nice":false},"axis":{"values":[0,1,2],"labels":false,"title":null}}}},
{"data":{"values":[{"label":"z · L⁻¹ = 0.3"}]},"mark":{"type":"text","align":"left","baseline":"alphabetic","font":"Liberation Serif","fontStyle":"italic","fontSize":15,"color":"#222"},
"encoding":{"text":{"field":"label"},"x":{"datum":7.92,"type":"quantitative","axis":{"orient":"top","values":[8,10,12],"labels":false,"title":null}},
"y":{"datum":2.07,"type":"quantitative","axis":{"orient":"right","values":[0,1,2],"labels":false,"title":null}}}}]},
{"width":357,"height":58,"resolve":{"axis":{"x":"independent","y":"independent"}},"layer":[
{"data":{"name":"L"},"transform":[{"filter":"datum.z == 0.2"}],"mark":{"type":"line","interpolate":"step-after","color":"#333","strokeWidth":1.8},
"encoding":{"x":{"field":"t","type":"quantitative","scale":{"domain":[7.75,13.63],"nice":false,"zero":false},"axis":{"values":[8,10,12],"labels":false,"title":null}},
"y":{"field":"y","type":"quantitative","scale":{"domain":[0,3],"nice":false},"axis":{"values":[0,1,2],"labels":false,"title":null}}}},
{"data":{"values":[{"label":"z · L⁻¹ = 0.2"}]},"mark":{"type":"text","align":"left","baseline":"alphabetic","font":"Liberation Serif","fontStyle":"italic","fontSize":15,"color":"#222"},
"encoding":{"text":{"field":"label"},"x":{"datum":7.92,"type":"quantitative","axis":{"orient":"top","values":[8,10,12],"labels":false,"title":null}},
"y":{"datum":2.07,"type":"quantitative","axis":{"orient":"right","values":[0,1,2],"labels":false,"title":null}}}}]},
{"width":357,"height":58,"resolve":{"axis":{"x":"independent","y":"independent"}},"layer":[
{"data":{"name":"L"},"transform":[{"filter":"datum.z == 0.1"}],"mark":{"type":"line","interpolate":"step-after","color":"#333","strokeWidth":1.8},
"encoding":{"x":{"field":"t","type":"quantitative","scale":{"domain":[7.75,13.63],"nice":false,"zero":false},"axis":{"values":[8,10,12],"title":"t · Tw⁻¹"}},
"y":{"field":"y","type":"quantitative","scale":{"domain":[0,3],"nice":false},"axis":{"values":[0,1,2],"title":"fᵧ · fₙ₁⁻¹"}}}},
{"data":{"values":[{"label":"z · L⁻¹ = 0.1"}]},"mark":{"type":"text","align":"left","baseline":"alphabetic","font":"Liberation Serif","fontStyle":"italic","fontSize":15,"color":"#222"},
"encoding":{"text":{"field":"label"},"x":{"datum":7.92,"type":"quantitative","axis":{"orient":"top","values":[8,10,12],"labels":false,"title":null}},
"y":{"datum":2.07,"type":"quantitative","axis":{"orient":"right","values":[0,1,2],"labels":false,"title":null}}}}]}
]},
{"spacing": 7.2, "vconcat": [
{"width":344,"height":58,"resolve":{"axis":{"x":"independent","y":"independent"}},"layer":[
{"data":{"name":"R"},"transform":[{"filter":"datum.z == 0.9"}],"mark":{"type":"line","interpolate":"step-after","color":"#333","strokeWidth":1.8},
"encoding":{"x":{"field":"t","type":"quantitative","scale":{"domain":[7.75,13.63],"nice":false,"zero":false},"axis":{"values":[8,10,12],"labels":false,"title":null}},
"y":{"field":"y","type":"quantitative","scale":{"domain":[0,2.15],"nice":false},"axis":{"values":[0,1,2],"labels":false,"title":null}}}},
{"data":{"values":[{"label":"z · L⁻¹ = 0.9"}]},"mark":{"type":"text","align":"left","baseline":"alphabetic","font":"Liberation Serif","fontStyle":"italic","fontSize":15,"color":"#222"},
"encoding":{"text":{"field":"label"},"x":{"datum":7.92,"type":"quantitative","axis":{"orient":"top","values":[8,10,12],"labels":false,"title":null}},
"y":{"datum":1.48,"type":"quantitative","axis":{"orient":"right","values":[0,1,2],"labels":false,"title":null}}}}]},
{"width":344,"height":58,"resolve":{"axis":{"x":"independent","y":"independent"}},"layer":[
{"data":{"name":"R"},"transform":[{"filter":"datum.z == 0.8"}],"mark":{"type":"line","interpolate":"step-after","color":"#333","strokeWidth":1.8},
"encoding":{"x":{"field":"t","type":"quantitative","scale":{"domain":[7.75,13.63],"nice":false,"zero":false},"axis":{"values":[8,10,12],"labels":false,"title":null}},
"y":{"field":"y","type":"quantitative","scale":{"domain":[0,2.15],"nice":false},"axis":{"values":[0,1,2],"labels":false,"title":null}}}},
{"data":{"values":[{"label":"z · L⁻¹ = 0.8"}]},"mark":{"type":"text","align":"left","baseline":"alphabetic","font":"Liberation Serif","fontStyle":"italic","fontSize":15,"color":"#222"},
"encoding":{"text":{"field":"label"},"x":{"datum":7.92,"type":"quantitative","axis":{"orient":"top","values":[8,10,12],"labels":false,"title":null}},
"y":{"datum":1.48,"type":"quantitative","axis":{"orient":"right","values":[0,1,2],"labels":false,"title":null}}}}]},
{"width":344,"height":58,"resolve":{"axis":{"x":"independent","y":"independent"}},"layer":[
{"data":{"name":"R"},"transform":[{"filter":"datum.z == 0.7"}],"mark":{"type":"line","interpolate":"step-after","color":"#333","strokeWidth":1.8},
"encoding":{"x":{"field":"t","type":"quantitative","scale":{"domain":[7.75,13.63],"nice":false,"zero":false},"axis":{"values":[8,10,12],"labels":false,"title":null}},
"y":{"field":"y","type":"quantitative","scale":{"domain":[0,2.15],"nice":false},"axis":{"values":[0,1,2],"labels":false,"title":null}}}},
{"data":{"values":[{"label":"z · L⁻¹ = 0.7"}]},"mark":{"type":"text","align":"left","baseline":"alphabetic","font":"Liberation Serif","fontStyle":"italic","fontSize":15,"color":"#222"},
"encoding":{"text":{"field":"label"},"x":{"datum":7.92,"type":"quantitative","axis":{"orient":"top","values":[8,10,12],"labels":false,"title":null}},
"y":{"datum":1.48,"type":"quantitative","axis":{"orient":"right","values":[0,1,2],"labels":false,"title":null}}}}]},
{"width":344,"height":58,"resolve":{"axis":{"x":"independent","y":"independent"}},"layer":[
{"data":{"name":"R"},"transform":[{"filter":"datum.z == 0.6"}],"mark":{"type":"line","interpolate":"step-after","color":"#333","strokeWidth":1.8},
"encoding":{"x":{"field":"t","type":"quantitative","scale":{"domain":[7.75,13.63],"nice":false,"zero":false},"axis":{"values":[8,10,12],"labels":false,"title":null}},
"y":{"field":"y","type":"quantitative","scale":{"domain":[0,2.15],"nice":false},"axis":{"values":[0,1,2],"labels":false,"title":null}}}},
{"data":{"values":[{"label":"z · L⁻¹ = 0.6"}]},"mark":{"type":"text","align":"left","baseline":"alphabetic","font":"Liberation Serif","fontStyle":"italic","fontSize":15,"color":"#222"},
"encoding":{"text":{"field":"label"},"x":{"datum":7.92,"type":"quantitative","axis":{"orient":"top","values":[8,10,12],"labels":false,"title":null}},
"y":{"datum":1.48,"type":"quantitative","axis":{"orient":"right","values":[0,1,2],"labels":false,"title":null}}}}]},
{"width":344,"height":58,"resolve":{"axis":{"x":"independent","y":"independent"}},"layer":[
{"data":{"name":"R"},"transform":[{"filter":"datum.z == 0.5"}],"mark":{"type":"line","interpolate":"step-after","color":"#333","strokeWidth":1.8},
"encoding":{"x":{"field":"t","type":"quantitative","scale":{"domain":[7.75,13.63],"nice":false,"zero":false},"axis":{"values":[8,10,12],"labels":false,"title":null}},
"y":{"field":"y","type":"quantitative","scale":{"domain":[0,2.15],"nice":false},"axis":{"values":[0,1,2],"labels":false,"title":null}}}},
{"data":{"values":[{"label":"z · L⁻¹ = 0.5"}]},"mark":{"type":"text","align":"left","baseline":"alphabetic","font":"Liberation Serif","fontStyle":"italic","fontSize":15,"color":"#222"},
"encoding":{"text":{"field":"label"},"x":{"datum":7.92,"type":"quantitative","axis":{"orient":"top","values":[8,10,12],"labels":false,"title":null}},
"y":{"datum":1.48,"type":"quantitative","axis":{"orient":"right","values":[0,1,2],"labels":false,"title":null}}}}]},
{"width":344,"height":58,"resolve":{"axis":{"x":"independent","y":"independent"}},"layer":[
{"data":{"name":"R"},"transform":[{"filter":"datum.z == 0.4"}],"mark":{"type":"line","interpolate":"step-after","color":"#333","strokeWidth":1.8},
"encoding":{"x":{"field":"t","type":"quantitative","scale":{"domain":[7.75,13.63],"nice":false,"zero":false},"axis":{"values":[8,10,12],"labels":false,"title":null}},
"y":{"field":"y","type":"quantitative","scale":{"domain":[0,2.15],"nice":false},"axis":{"values":[0,1,2],"labels":false,"title":null}}}},
{"data":{"values":[{"label":"z · L⁻¹ = 0.4"}]},"mark":{"type":"text","align":"left","baseline":"alphabetic","font":"Liberation Serif","fontStyle":"italic","fontSize":15,"color":"#222"},
"encoding":{"text":{"field":"label"},"x":{"datum":7.92,"type":"quantitative","axis":{"orient":"top","values":[8,10,12],"labels":false,"title":null}},
"y":{"datum":1.48,"type":"quantitative","axis":{"orient":"right","values":[0,1,2],"labels":false,"title":null}}}}]},
{"width":344,"height":58,"resolve":{"axis":{"x":"independent","y":"independent"}},"layer":[
{"data":{"name":"R"},"transform":[{"filter":"datum.z == 0.3"}],"mark":{"type":"line","interpolate":"step-after","color":"#333","strokeWidth":1.8},
"encoding":{"x":{"field":"t","type":"quantitative","scale":{"domain":[7.75,13.63],"nice":false,"zero":false},"axis":{"values":[8,10,12],"labels":false,"title":null}},
"y":{"field":"y","type":"quantitative","scale":{"domain":[0,2.15],"nice":false},"axis":{"values":[0,1,2],"labels":false,"title":null}}}},
{"data":{"values":[{"label":"z · L⁻¹ = 0.3"}]},"mark":{"type":"text","align":"left","baseline":"alphabetic","font":"Liberation Serif","fontStyle":"italic","fontSize":15,"color":"#222"},
"encoding":{"text":{"field":"label"},"x":{"datum":7.92,"type":"quantitative","axis":{"orient":"top","values":[8,10,12],"labels":false,"title":null}},
"y":{"datum":1.48,"type":"quantitative","axis":{"orient":"right","values":[0,1,2],"labels":false,"title":null}}}}]},
{"width":344,"height":58,"resolve":{"axis":{"x":"independent","y":"independent"}},"layer":[
{"data":{"name":"R"},"transform":[{"filter":"datum.z == 0.2"}],"mark":{"type":"line","interpolate":"step-after","color":"#333","strokeWidth":1.8},
"encoding":{"x":{"field":"t","type":"quantitative","scale":{"domain":[7.75,13.63],"nice":false,"zero":false},"axis":{"values":[8,10,12],"labels":false,"title":null}},
"y":{"field":"y","type":"quantitative","scale":{"domain":[0,2.15],"nice":false},"axis":{"values":[0,1,2],"labels":false,"title":null}}}},
{"data":{"values":[{"label":"z · L⁻¹ = 0.2"}]},"mark":{"type":"text","align":"left","baseline":"alphabetic","font":"Liberation Serif","fontStyle":"italic","fontSize":15,"color":"#222"},
"encoding":{"text":{"field":"label"},"x":{"datum":7.92,"type":"quantitative","axis":{"orient":"top","values":[8,10,12],"labels":false,"title":null}},
"y":{"datum":1.48,"type":"quantitative","axis":{"orient":"right","values":[0,1,2],"labels":false,"title":null}}}}]},
{"width":344,"height":58,"resolve":{"axis":{"x":"independent","y":"independent"}},"layer":[
{"data":{"name":"R"},"transform":[{"filter":"datum.z == 0.1"}],"mark":{"type":"line","interpolate":"step-after","color":"#333","strokeWidth":1.8},
"encoding":{"x":{"field":"t","type":"quantitative","scale":{"domain":[7.75,13.63],"nice":false,"zero":false},"axis":{"values":[8,10,12],"title":"t · Tw⁻¹"}},
"y":{"field":"y","type":"quantitative","scale":{"domain":[0,2.15],"nice":false},"axis":{"values":[0,1,2],"title":"fHᵧ · fₙ₁⁻¹"}}}},
{"data":{"values":[{"label":"z · L⁻¹ = 0.1"}]},"mark":{"type":"text","align":"left","baseline":"alphabetic","font":"Liberation Serif","fontStyle":"italic","fontSize":15,"color":"#222"},
"encoding":{"text":{"field":"label"},"x":{"datum":7.92,"type":"quantitative","axis":{"orient":"top","values":[8,10,12],"labels":false,"title":null}},
"y":{"datum":1.48,"type":"quantitative","axis":{"orient":"right","values":[0,1,2],"labels":false,"title":null}}}}]}
]}
],
"config": {
"view": {"stroke": "#000", "strokeWidth": 1.3},
"axis": {"domain": false, "grid": false, "tickSize": -5, "tickColor": "#000", "tickWidth": 1, "labelFlush": false, "labelFont": "Liberation Serif", "labelFontSize": 16, "labelColor": "#222", "titleFont": "Liberation Serif", "titleFontStyle": "italic", "titleFontWeight": "normal", "titleFontSize": 16, "titleColor": "#222"},
"axisX": {"labelPadding": 11, "titlePadding": 4},
"axisY": {"labelPadding": 10, "titlePadding": 6}
}
}
